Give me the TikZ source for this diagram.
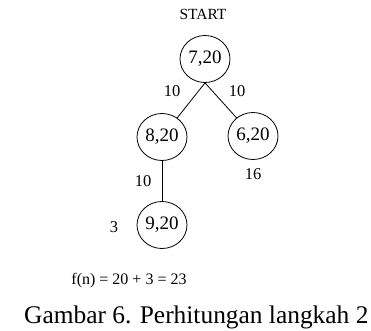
\documentclass[tikz,border=0pt]{standalone}
\usepackage{fontspec}
\setmainfont{Liberation Serif}
\usetikzlibrary{shapes.geometric}

\begin{document}
\begin{tikzpicture}[x=1pt,y=-1pt,
	state/.style={draw,ellipse,line width=0.8pt,minimum width=50pt,minimum height=47pt,inner sep=0pt,font=\fontsize{19}{21}\selectfont},
	cost/.style={font=\fontsize{16.5}{18}\selectfont}]
		\useasboundingbox (0,0) rectangle (371,330);

		\node (start) at (203,14) {\fontsize{15.5}{17}\selectfont START};
		\node[state] (720) at (205,59) {7,20};
		\node[state] (820) at (162,137) {8,20};
		\node[state] (620) at (253,136) {6,20};
		\node[state] (920) at (162,225) {9,20};

		\node[cost] (g1) at (172,91) {10};
		\node[cost] (g2) at (237,91) {10};
		\node[cost] (h2) at (253,174) {16};
		\node[cost] (g3) at (143,181) {10};
		\node[cost] (h3) at (114,227) {3};

		\node[font=\fontsize{16}{18}\selectfont] (fn) at (129,281) {f(n) = 20 + 3 = 23};
		\node[anchor=base west,inner sep=0pt,font=\fontsize{25.4}{28}\selectfont] (caption) at (24,323) {Gambar 6. Perhitungan langkah 2};

		\draw[line width=0.8pt] (720.south) -- (820);
		\draw[line width=0.8pt] (720.south) -- (620);
		\draw[line width=0.8pt] (820) -- (920);
	\end{tikzpicture}
\end{document}
